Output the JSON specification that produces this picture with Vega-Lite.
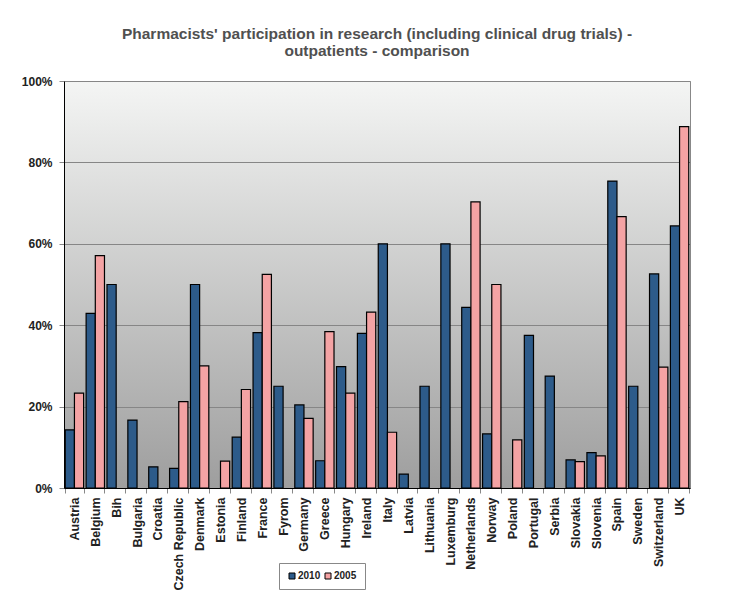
{
  "$schema": "https://vega.github.io/schema/vega-lite/v6.json",
  "width": 626,
  "height": 407,
  "autosize": {"type": "none"},
  "padding": {"left": 64, "top": 81, "right": 64, "bottom": 110},
  "background": "white",
  "title": {
    "text": ["Pharmacists' participation in research (including clinical drug trials) -", "outpatients  - comparison"],
    "font": "Liberation Sans",
    "fontSize": 15.5,
    "fontWeight": "bold",
    "color": "#505050",
    "anchor": "middle",
    "offset": 16,
    "lineHeight": 17
  },
  "data": {
    "values": [
      {"country": "Austria", "year": "2010", "value": 0.143},
      {"country": "Austria", "year": "2005", "value": 0.233},
      {"country": "Belgium", "year": "2010", "value": 0.429},
      {"country": "Belgium", "year": "2005", "value": 0.571},
      {"country": "Bih", "year": "2010", "value": 0.5},
      {"country": "Bulgaria", "year": "2010", "value": 0.167},
      {"country": "Croatia", "year": "2010", "value": 0.052},
      {"country": "Czech Republic", "year": "2010", "value": 0.048},
      {"country": "Czech Republic", "year": "2005", "value": 0.212},
      {"country": "Denmark", "year": "2010", "value": 0.5},
      {"country": "Denmark", "year": "2005", "value": 0.3},
      {"country": "Estonia", "year": "2005", "value": 0.066},
      {"country": "Finland", "year": "2010", "value": 0.125},
      {"country": "Finland", "year": "2005", "value": 0.242},
      {"country": "France", "year": "2010", "value": 0.382},
      {"country": "France", "year": "2005", "value": 0.525},
      {"country": "Fyrom", "year": "2010", "value": 0.25},
      {"country": "Germany", "year": "2010", "value": 0.204},
      {"country": "Germany", "year": "2005", "value": 0.171},
      {"country": "Greece", "year": "2010", "value": 0.067},
      {"country": "Greece", "year": "2005", "value": 0.384},
      {"country": "Hungary", "year": "2010", "value": 0.298},
      {"country": "Hungary", "year": "2005", "value": 0.233},
      {"country": "Ireland", "year": "2010", "value": 0.38},
      {"country": "Ireland", "year": "2005", "value": 0.432},
      {"country": "Italy", "year": "2010", "value": 0.6},
      {"country": "Italy", "year": "2005", "value": 0.137},
      {"country": "Latvia", "year": "2010", "value": 0.034},
      {"country": "Lithuania", "year": "2010", "value": 0.25},
      {"country": "Luxemburg", "year": "2010", "value": 0.6},
      {"country": "Netherlands", "year": "2010", "value": 0.444},
      {"country": "Netherlands", "year": "2005", "value": 0.703},
      {"country": "Norway", "year": "2010", "value": 0.133},
      {"country": "Norway", "year": "2005", "value": 0.5},
      {"country": "Poland", "year": "2005", "value": 0.118},
      {"country": "Portugal", "year": "2010", "value": 0.375},
      {"country": "Serbia", "year": "2010", "value": 0.275},
      {"country": "Slovakia", "year": "2010", "value": 0.069},
      {"country": "Slovakia", "year": "2005", "value": 0.065},
      {"country": "Slovenia", "year": "2010", "value": 0.087},
      {"country": "Slovenia", "year": "2005", "value": 0.079},
      {"country": "Spain", "year": "2010", "value": 0.754},
      {"country": "Spain", "year": "2005", "value": 0.667},
      {"country": "Sweden", "year": "2010", "value": 0.25},
      {"country": "Switzerland", "year": "2010", "value": 0.526},
      {"country": "Switzerland", "year": "2005", "value": 0.297},
      {"country": "UK", "year": "2010", "value": 0.644},
      {"country": "UK", "year": "2005", "value": 0.888}
    ]
  },
  "mark": {"type": "bar", "stroke": "black", "strokeWidth": 1.2},
  "encoding": {
    "x": {
      "field": "country",
      "type": "nominal",
      "sort": ["Austria", "Belgium", "Bih", "Bulgaria", "Croatia", "Czech Republic", "Denmark", "Estonia", "Finland", "France", "Fyrom", "Germany", "Greece", "Hungary", "Ireland", "Italy", "Latvia", "Lithuania", "Luxemburg", "Netherlands", "Norway", "Poland", "Portugal", "Serbia", "Slovakia", "Slovenia", "Spain", "Sweden", "Switzerland", "UK"],
      "scale": {"paddingInner": 0.12, "paddingOuter": 0.06},
      "axis": {
        "title": null,
        "labelAngle": -90,
        "labelAlign": "right",
        "labelBaseline": "middle",
        "labelFont": "Liberation Sans",
        "labelFontSize": 12.5,
        "labelFontWeight": "bold",
        "labelColor": "#222222",
        "labelPadding": 4,
        "labelLimit": 200,
        "domainColor": "black",
        "domainWidth": 1,
        "tickColor": "#888888",
        "tickSize": 5,
        "tickBand": "extent",
        "grid": false
      }
    },
    "xOffset": {"field": "year", "type": "nominal", "sort": ["2010", "2005"], "scale": {"domain": ["2010", "2005"]}},
    "y": {
      "field": "value",
      "type": "quantitative",
      "scale": {"domain": [0, 1], "nice": false},
      "axis": {
        "title": null,
        "format": "%",
        "values": [0, 0.2, 0.4, 0.6, 0.8, 1],
        "labelFont": "Liberation Sans",
        "labelFontSize": 12,
        "labelFontWeight": "bold",
        "labelColor": "#222222",
        "labelPadding": 7,
        "domainColor": "black",
        "domainWidth": 1,
        "tickColor": "#888888",
        "tickSize": 5,
        "grid": true,
        "gridColor": "#868686",
        "gridWidth": 1
      }
    },
    "color": {
      "field": "year",
      "type": "nominal",
      "scale": {"domain": ["2010", "2005"], "range": ["#2d5b8a", "#f4a3a4"]},
      "legend": {
        "title": null,
        "orient": "none",
        "legendX": 215,
        "legendY": 482,
        "direction": "horizontal",
        "strokeColor": "#888888",
        "padding": 8,
        "symbolType": "square",
        "symbolSize": 36,
        "symbolStrokeColor": "black",
        "symbolStrokeWidth": 1,
        "labelOffset": 1,
        "labelFont": "Liberation Sans",
        "labelFontSize": 10,
        "labelFontWeight": "bold",
        "labelColor": "#222222",
        "columnPadding": 2
      }
    }
  },
  "config": {
    "view": {
      "fill": {
        "gradient": "linear",
        "x1": 0, "y1": 0, "x2": 0, "y2": 1,
        "stops": [
          {"offset": 0, "color": "#f4f5f4"},
          {"offset": 1, "color": "#9e9e9e"}
        ]
      },
      "stroke": "#888888",
      "strokeWidth": 1
    }
  }
}
